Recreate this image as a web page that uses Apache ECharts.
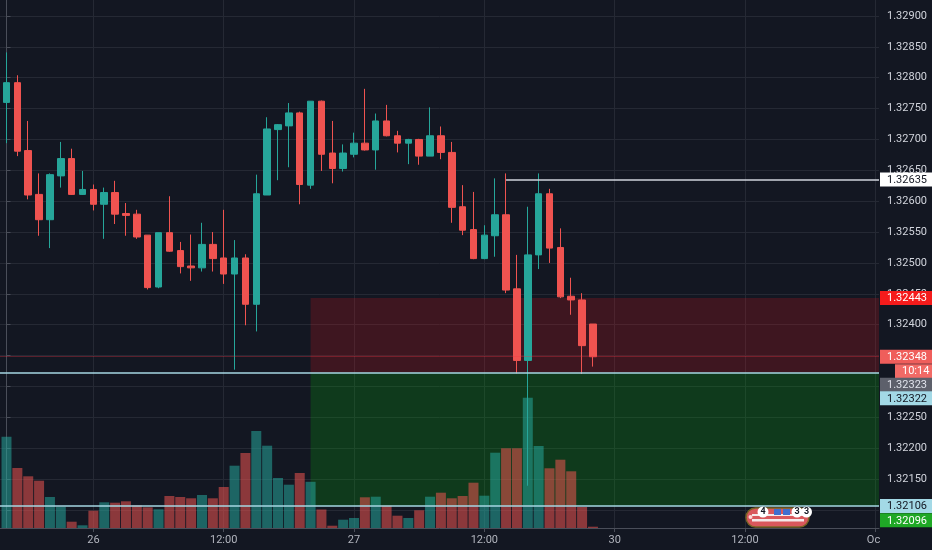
<!DOCTYPE html>
<html>
<head>
<meta charset="utf-8">
<script src="https://cdn.jsdelivr.net/npm/echarts@6/dist/echarts.min.js"></script>
<style>
html,body{margin:0;padding:0;background:#131722;}
#chart{width:932px;height:550px;}
</style>
</head>
<body>
<div id="chart"></div>
<script>
// hourly candles: [open, close, low, high]
const candles = [
  [1.32760, 1.32792, 1.32694, 1.32841],
  [1.32792, 1.32681, 1.32673, 1.32804],
  [1.32682, 1.32610, 1.32603, 1.32730],
  [1.32611, 1.32570, 1.32544, 1.32645],
  [1.32570, 1.32643, 1.32524, 1.32645],
  [1.32641, 1.32669, 1.32622, 1.32696],
  [1.32669, 1.32611, 1.32610, 1.32685],
  [1.32611, 1.32619, 1.32610, 1.32649],
  [1.32619, 1.32595, 1.32585, 1.32627],
  [1.32595, 1.32614, 1.32539, 1.32622],
  [1.32614, 1.32579, 1.32563, 1.32633],
  [1.32580, 1.32577, 1.32544, 1.32597],
  [1.32579, 1.32542, 1.32539, 1.32586],
  [1.32545, 1.32460, 1.32457, 1.32545],
  [1.32461, 1.32549, 1.32459, 1.32549],
  [1.32549, 1.32519, 1.32518, 1.32608],
  [1.32520, 1.32494, 1.32483, 1.32534],
  [1.32495, 1.32492, 1.32471, 1.32546],
  [1.32492, 1.32530, 1.32486, 1.32565],
  [1.32530, 1.32507, 1.32486, 1.32550],
  [1.32508, 1.32482, 1.32466, 1.32586],
  [1.32482, 1.32508, 1.32327, 1.32537],
  [1.32508, 1.32433, 1.32399, 1.32514],
  [1.32433, 1.32612, 1.32389, 1.32643],
  [1.32610, 1.32717, 1.32610, 1.32736],
  [1.32716, 1.32724, 1.32634, 1.32725],
  [1.32722, 1.32743, 1.32655, 1.32759],
  [1.32743, 1.32627, 1.32595, 1.32745],
  [1.32626, 1.32762, 1.32620, 1.32762],
  [1.32762, 1.32676, 1.32649, 1.32763],
  [1.32678, 1.32653, 1.32629, 1.32730],
  [1.32653, 1.32678, 1.32648, 1.32692],
  [1.32676, 1.32694, 1.32671, 1.32711],
  [1.32694, 1.32683, 1.32682, 1.32782],
  [1.32683, 1.32730, 1.32651, 1.32742],
  [1.32730, 1.32706, 1.32705, 1.32756],
  [1.32706, 1.32694, 1.32679, 1.32714],
  [1.32694, 1.32700, 1.32660, 1.32701],
  [1.32700, 1.32673, 1.32659, 1.32701],
  [1.32673, 1.32706, 1.32673, 1.32752],
  [1.32706, 1.32679, 1.32668, 1.32721],
  [1.32679, 1.32590, 1.32565, 1.32696],
  [1.32591, 1.32553, 1.32545, 1.32626],
  [1.32554, 1.32507, 1.32506, 1.32615],
  [1.32507, 1.32545, 1.32506, 1.32561],
  [1.32544, 1.32578, 1.32510, 1.32637],
  [1.32578, 1.32456, 1.32451, 1.32645],
  [1.32458, 1.32342, 1.32321, 1.32513],
  [1.32342, 1.32513, 1.32139, 1.32591],
  [1.32513, 1.32612, 1.32490, 1.32645],
  [1.32612, 1.32524, 1.32500, 1.32620],
  [1.32525, 1.32445, 1.32443, 1.32556],
  [1.32446, 1.32440, 1.32416, 1.32476],
  [1.32440, 1.32366, 1.32320, 1.32451],
  [1.32401, 1.32348, 1.32332, 1.32401]
];
const volumes = [
  913, 600, 517, 473, 310, 213, 63, 27, 173, 257,
  253, 267, 227, 207, 187, 320, 310, 297, 330, 297,
  410, 623, 750, 970, 823, 500, 433, 550, 462, 185,
  23, 83, 100, 307, 313, 223, 123, 100, 177, 313,
  353, 297, 320, 453, 323, 753, 797, 797, 1303, 820,
  597, 683, 567, 210, 13
];
const timeTickBars = [8, 20, 32, 44, 56, 68, 80];
const timeTickLabels = ['26', '12:00', '27', '12:00', '30', '12:00', 'Oct'];
const priceTicks = [1.3210, 1.3215, 1.3220, 1.3225, 1.3230, 1.3235, 1.3240, 1.3245,
                    1.3250, 1.3255, 1.3260, 1.3265, 1.3270, 1.3275, 1.3280, 1.3285, 1.3290];

const lastPrice = 1.32348;
const countdownText = '10:14';
const alertLevel = 1.32635;
const alertStartBar = 46;
const stopLevel = 1.32443;
const entryLevel = 1.32322;
const targetLevel = 1.32106;
const positionStartBar = 28;
const markPriceLevel = 1.32323;
const bidLevel = 1.32096;

// axis extents (view window)
const X_MIN = -0.5985, X_MAX = 80.34;
const Y_MIN = 1.3207056, Y_MAX = 1.3292592;
const VOL_MAX = 5280;

const FONT = 'Roboto, "Liberation Sans", sans-serif';
const UP = '#26a69a', DOWN = '#ef5350';

function tag(text, bg, fg, down, right) {
  const d = down || 0, r = right || 0;
  return {
    show: true, position: 'end', distance: 1,
    formatter: '{t|' + text + '}',
    padding: [2 * d, 0, 0, r],
    rich: {
      t: { backgroundColor: bg, color: fg, fontSize: 11, fontFamily: FONT,
           lineHeight: 11, padding: [2, 7, 1, 7] }
    }
  };
}
const hidden = { color: 'rgba(0,0,0,0)', width: 1, type: 'solid' };

const chart = echarts.init(document.getElementById('chart'), null, { renderer: 'canvas' });

const option = {
  backgroundColor: '#131722',
  animation: false,
  grid: { left: 0, right: 53, top: 0, bottom: 22, containLabel: false, outerBoundsMode: 'none' },
  xAxis: {
    type: 'value', min: X_MIN, max: X_MAX,
    axisLine: { show: true, lineStyle: { color: '#4a4e59', width: 1 } },
    axisTick: { show: true, customValues: timeTickBars, length: 4, lineStyle: { color: '#4a4e59' } },
    axisLabel: {
      customValues: timeTickBars, color: '#b2b5be', fontSize: 11, fontFamily: FONT, margin: 7,
      formatter: v => timeTickLabels[timeTickBars.indexOf(v)] || ''
    },
    splitLine: { show: true, lineStyle: { color: '#252934', width: 1 } }
  },
  yAxis: [
    {
      type: 'value', position: 'right', min: Y_MIN, max: Y_MAX, scale: true,
      axisLine: { show: true, lineStyle: { color: '#4a4e59', width: 1 } },
      axisTick: { show: true, customValues: priceTicks, length: 4, lineStyle: { color: '#4a4e59' } },
      axisLabel: {
        customValues: priceTicks, color: '#d1d4dc', fontSize: 11, fontFamily: FONT, margin: 8,
        formatter: v => v.toFixed(5)
      },
      splitLine: { show: true, lineStyle: { color: '#252934', width: 1 } }
    },
    { type: 'value', position: 'left', min: 0, max: VOL_MAX, show: false, splitLine: { show: false } }
  ],
  series: [
    {
      name: 'Volume', type: 'bar', xAxisIndex: 0, yAxisIndex: 1, barWidth: 10, silent: true,
      data: volumes.map((v, i) => ({
        value: [i, v],
        itemStyle: { color: candles[i][1] >= candles[i][0] ? 'rgba(38,166,154,0.55)' : 'rgba(239,83,80,0.55)' }
      }))
    },
    {
      name: 'GBPUSD', type: 'candlestick', xAxisIndex: 0, yAxisIndex: 0, barWidth: 7, silent: true,
      encode: { x: 0, y: [1, 2, 3, 4] },
      data: candles.map((c, i) => [i, c[0], c[1], c[2], c[3]]),
      itemStyle: { color: UP, color0: DOWN, borderColor: UP, borderColor0: DOWN, borderWidth: 1 },
      markArea: {
        silent: true,
        data: [
          [{ coord: [positionStartBar, stopLevel], itemStyle: { color: 'rgba(234,18,24,0.2)' } },
           { coord: [X_MAX, entryLevel] }],
          [{ coord: [positionStartBar, entryLevel], itemStyle: { color: 'rgba(0,198,4,0.2)' } },
           { coord: [X_MAX, targetLevel] }]
        ]
      },
      markLine: {
        silent: true, symbol: ['none', 'none'], animation: false, precision: 5,
        data: [
          { yAxis: lastPrice, lineStyle: { color: 'rgba(242,54,69,0.32)', width: 1, type: 'solid' },
            label: tag(lastPrice.toFixed(5), '#ef5e5b', '#ffffff') },
          { yAxis: lastPrice, lineStyle: hidden,
            label: tag(countdownText, '#f26a66', '#ffffff', 14.5, 15) },
          { yAxis: stopLevel, lineStyle: hidden,
            label: tag(stopLevel.toFixed(5), '#f51b1b', '#ffffff') },
          { yAxis: markPriceLevel, lineStyle: hidden,
            label: tag(markPriceLevel.toFixed(5), '#5d606b', '#e0e3eb', 12.5) },
          { yAxis: entryLevel, lineStyle: { color: '#a6d7e3', width: 1.5, type: 'solid' },
            label: tag(entryLevel.toFixed(5), '#a3d9e6', '#131722', 25.5) },
          { yAxis: targetLevel, lineStyle: { color: '#a6d7e3', width: 1.5, type: 'solid' },
            label: tag(targetLevel.toFixed(5), '#a3d9e6', '#131722') },
          { yAxis: bidLevel, lineStyle: hidden,
            label: tag(bidLevel.toFixed(5), '#1fa826', '#ffffff', 8) },
          [
            { coord: [alertStartBar, alertLevel], lineStyle: { color: '#d1d4dc', width: 1.5, type: 'solid' },
              label: tag(alertLevel.toFixed(5), '#ffffff', '#131722') },
            { coord: [X_MAX, alertLevel] }
          ]
        ]
      }
    }
  ],
  graphic: [
    // price-scale panel strip under the time axis (clips the last time label)
    { type: 'rect', z: 100, shape: { x: 880, y: 529, width: 52, height: 21 }, style: { fill: '#131722' } },
    // economic events badge
    { type: 'rect', z: 100, shape: { x: 746, y: 508, width: 63, height: 19, r: 9.5 },
      style: { fill: '#d9585c', stroke: '#7a6424', lineWidth: 1.5 } },
    { type: 'rect', z: 101, shape: { x: 752, y: 519, width: 52, height: 2.5 }, style: { fill: '#f3eaea' } },
    { type: 'rect', z: 101, shape: { x: 752, y: 514, width: 52, height: 2 }, style: { fill: '#f3eaea' } },
    { type: 'circle', z: 101, shape: { cx: 750.5, cy: 517, r: 2 }, style: { fill: '#ffd6d6' } },
    { type: 'rect', z: 101, shape: { x: 774, y: 509, width: 7, height: 6 }, style: { fill: '#3e6fcf' } },
    { type: 'rect', z: 101, shape: { x: 783, y: 509, width: 7, height: 6 }, style: { fill: '#3e6fcf' } },
    { type: 'circle', z: 102, shape: { cx: 763, cy: 512, r: 5.5 }, style: { fill: '#ffffff' } },
    { type: 'text', z: 103, x: 763, y: 512, style: { text: '4', fill: '#131722', font: 'bold 9px ' + FONT, align: 'center', verticalAlign: 'middle' } },
    { type: 'circle', z: 102, shape: { cx: 797, cy: 512, r: 5.5 }, style: { fill: '#ffffff' } },
    { type: 'text', z: 103, x: 797, y: 512, style: { text: '3', fill: '#131722', font: 'bold 9px ' + FONT, align: 'center', verticalAlign: 'middle' } },
    { type: 'circle', z: 102, shape: { cx: 806.5, cy: 512, r: 5.5 }, style: { fill: '#ffffff' } },
    { type: 'text', z: 103, x: 806.5, y: 512, style: { text: '3', fill: '#131722', font: 'bold 9px ' + FONT, align: 'center', verticalAlign: 'middle' } }
  ]
};
chart.setOption(option);
</script>
</body>
</html>
